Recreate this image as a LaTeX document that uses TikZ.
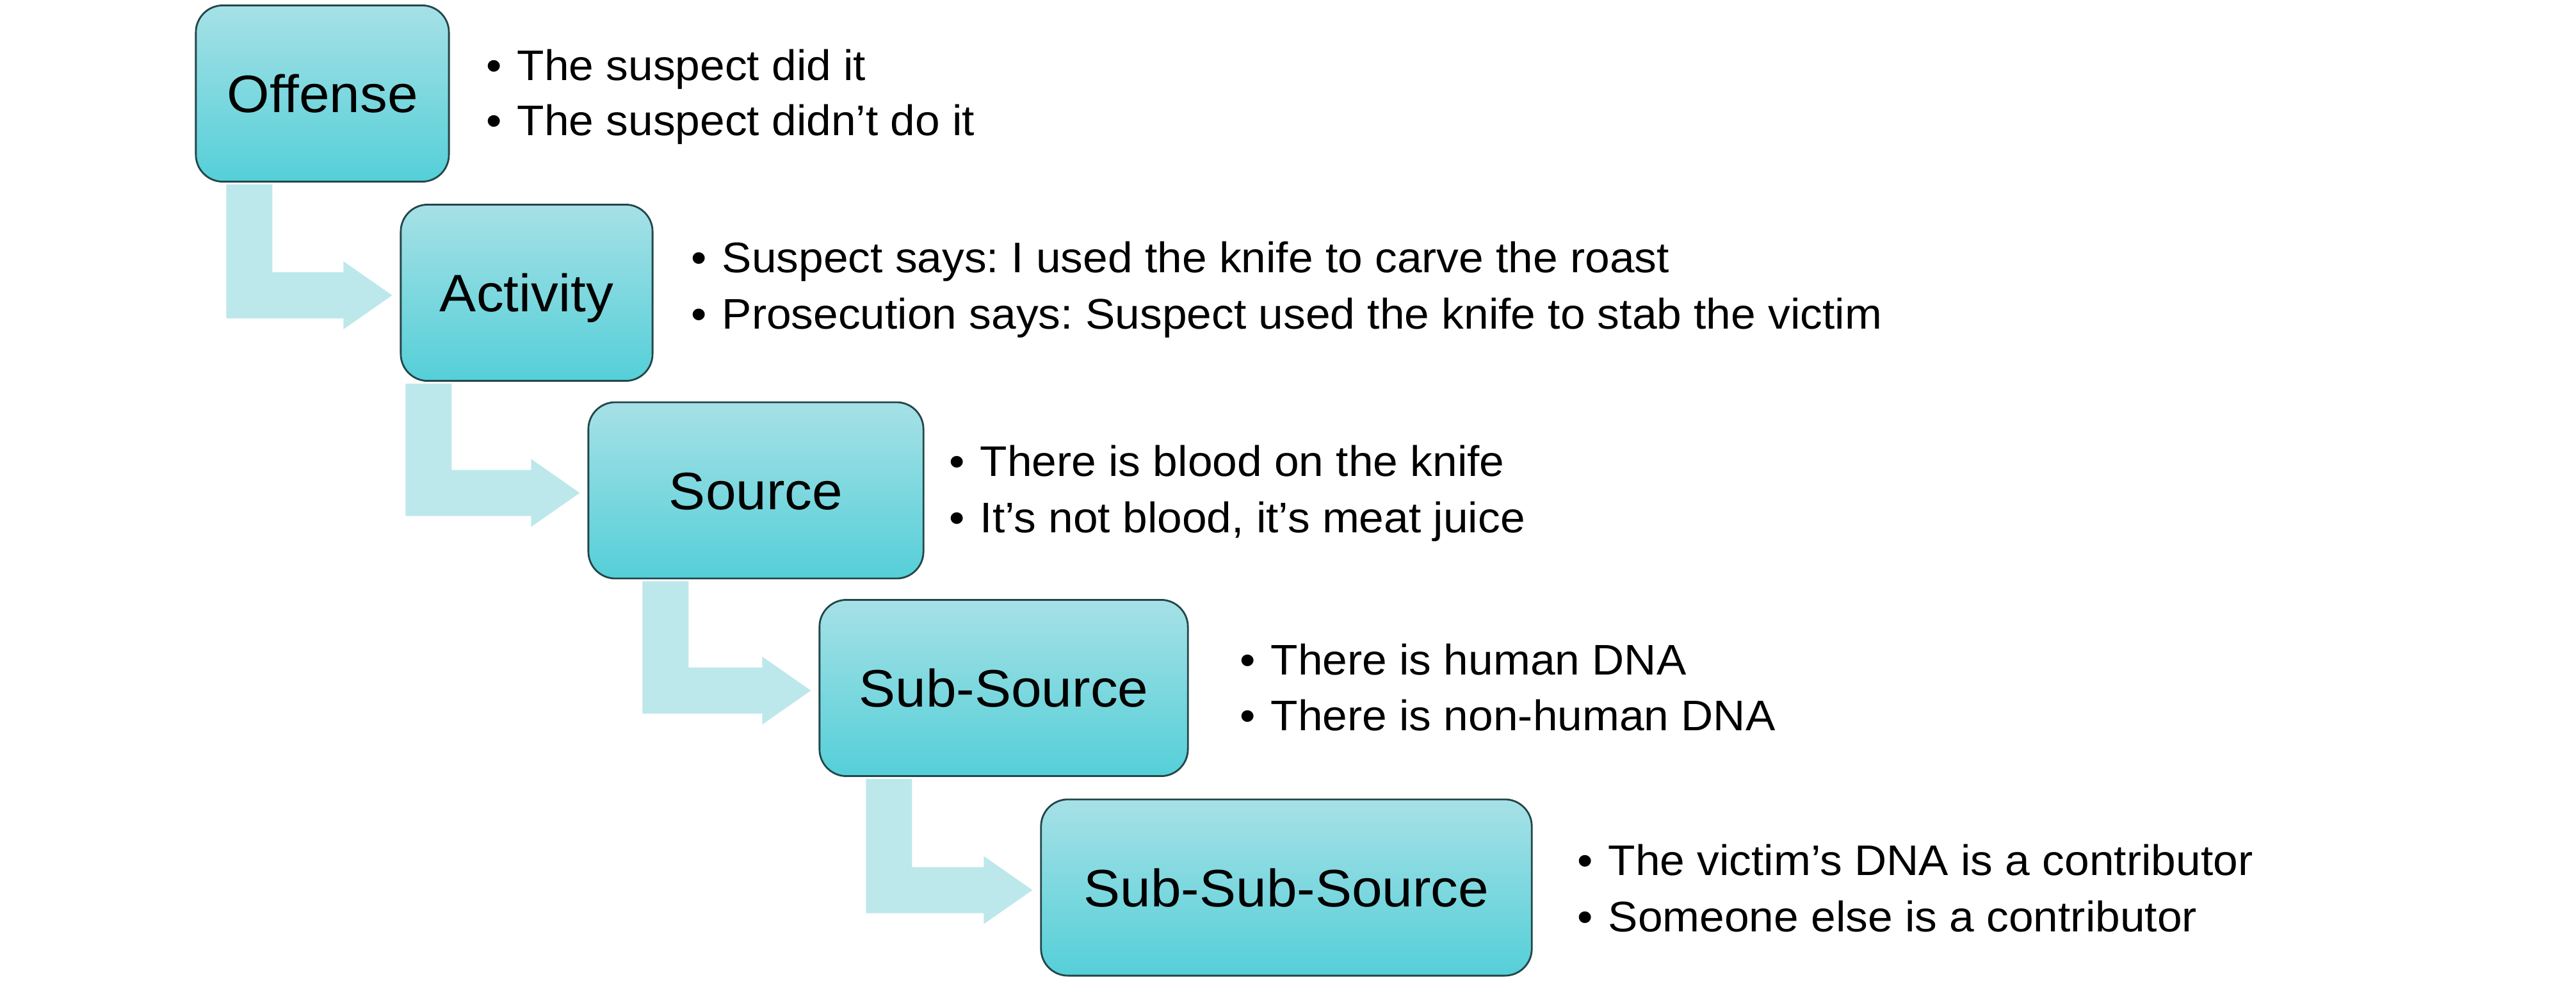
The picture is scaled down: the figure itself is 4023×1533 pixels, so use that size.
\documentclass[tikz,border=0pt]{standalone}
\usepackage{fontspec}
\setmainfont{Liberation Sans}[FakeStretch=1.04]
\usetikzlibrary{calc,backgrounds}
\frenchspacing
\definecolor{boxtop}{RGB}{166,225,230}
\definecolor{boxbot}{RGB}{85,207,216}
\definecolor{boxline}{RGB}{35,70,74}
\definecolor{arrowfill}{RGB}{189,232,235}
\tikzset{
  stage/.style={draw=boxline, line width=0.8pt, rounded corners=0.42cm,
    top color=boxtop, bottom color=boxbot, inner sep=0pt,
    minimum height=2.75cm,
    font=\fontsize{23.4}{27}\selectfont, text height=16.8pt, text depth=0pt},
  bul/.style={inner sep=0pt, anchor=base west, font=\fontsize{19}{23}\selectfont},
  bentarr/.style={fill=arrowfill, draw=none},
}
\newcommand\bitem[1]{\makebox[0.48cm][l]{\textbullet}#1}
% #1 from node, #2 to node, #3 id, #4 stem offset left of target
\newcommand\bentarrow[4]{%
  \coordinate (t#3) at ($(#2.west)+(-12,4)$);
  \coordinate (sl#3) at ($(#2.west)+(-#4,0)$);
  \coordinate (top#3) at ($(sl#3 |- #1.south)+(0,3)$);
  \fill[bentarr] (top#3) -- ($(top#3)+(72,0)$)
    -- ($(top#3 |- t#3)+(72,-36)$)
    -- ($(t#3)+(-76,-36)$) -- ($(t#3)+(-76,-53)$) -- (t#3)
    -- ($(t#3)+(-76,53)$) -- ($(t#3)+(-76,36)$)
    -- ($(top#3 |- t#3)+(0,36)$) -- cycle;
}
\begin{document}
\begin{tikzpicture}[x=0.01cm,y=-0.01cm]
\useasboundingbox (0,0) rectangle (4023,1533);

\node[stage, minimum width=3.95cm] (off)  at (503.5,146)   {Offense};
\node[stage, minimum width=3.93cm] (act)  at (822.5,457)   {Activity};
\node[stage, minimum width=5.23cm] (src)  at (1180.5,765.5){Source};
\node[stage, minimum width=5.75cm] (sub)  at (1567.5,1074) {Sub-Source};
\node[stage, minimum width=7.66cm] (ssub) at (2009,1385.5) {Sub-Sub-Source};

\begin{scope}[on background layer]
  \bentarrow{off}{act}{a}{271}
  \bentarrow{act}{src}{b}{284}
  \bentarrow{src}{sub}{c}{275}
  \bentarrow{sub}{ssub}{d}{272}
\end{scope}

\node[bul] (o1) at (759,125) {\bitem{The suspect did it}};
\node[bul] (o2) at (759,211) {\bitem{The suspect didn’t do it}};

\node[bul] (a1) at (1079,425) {\bitem{Suspect says: I used the knife to carve the roast}};
\node[bul] (a2) at (1079,513) {\bitem{Prosecution says: Suspect used the knife to stab the victim}};

\node[bul] (s1) at (1482,743) {\bitem{There is blood on the knife}};
\node[bul] (s2) at (1482,831) {\bitem{It’s not blood, it’s meat juice}};

\node[bul] (u1) at (1936,1053) {\bitem{There is human DNA}};
\node[bul] (u2) at (1936,1140) {\bitem{There is non-human DNA}};

\node[bul] (v1) at (2463,1366) {\bitem{The victim’s DNA is a contributor}};
\node[bul] (v2) at (2463,1454) {\bitem{Someone else is a contributor}};
\end{tikzpicture}
\end{document}
